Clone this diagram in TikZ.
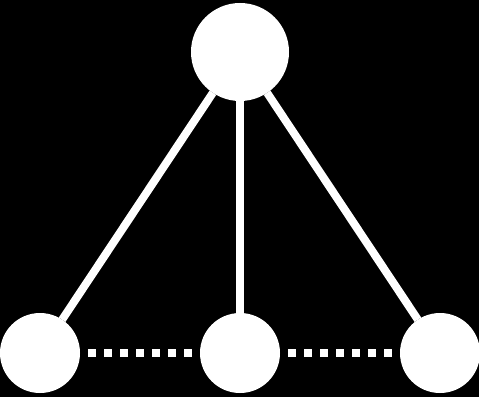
\documentclass[tikz,border=0pt]{standalone}
\usepackage{tikz}
\usetikzlibrary{positioning}

\begin{document}
\begin{tikzpicture}[x=1pt,y=1pt]
\tikzset{ball/.style={circle,fill=white,inner sep=0pt,outer sep=0pt}}
\tikzset{big ball/.style={ball,minimum size=98pt}}
\tikzset{small ball/.style={ball,minimum size=80pt}}
\tikzset{spoke/.style={draw=white,line width=8pt}}
\tikzset{dots/.style={draw=white,line width=8pt,dash pattern=on 8pt off 8pt,dash phase=8pt}}
\fill[black] (0,0) rectangle (479,397);
\useasboundingbox (0,0) rectangle (479,397);
% nodes
\node[big ball] (top) at (240,345) {};
\node[small ball] (left) at (40,44) {};
\node[small ball] (mid) at (240,44) {};
\node[small ball] (right) at (440,44) {};
% edges
\draw[spoke] (top) -- (left);
\draw[spoke] (top) -- (mid);
\draw[spoke] (top) -- (right);
\draw[dots] (left) -- (mid);
\draw[dots] (mid) -- (right);
\end{tikzpicture}
\end{document}
